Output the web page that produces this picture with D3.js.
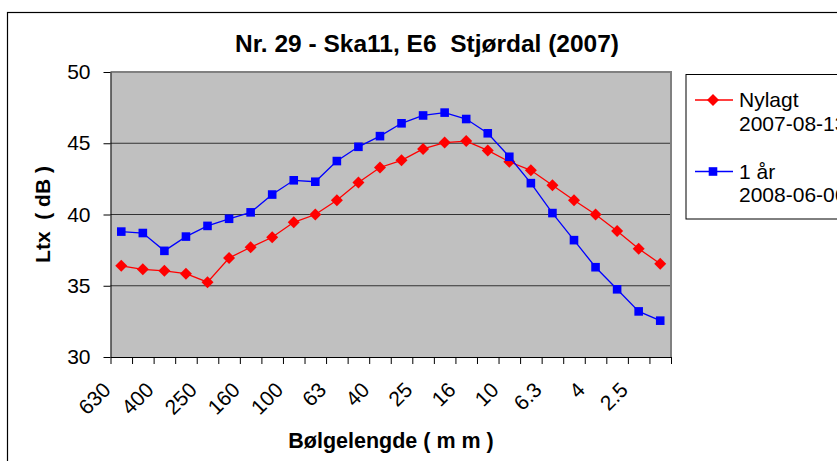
<!DOCTYPE html>
<html lang="no">
<head>
<meta charset="utf-8">
<script src="https://d3js.org/d3.v7.min.js"></script>
<style>
body { margin: 0; background: #fff; }
svg { display: block; font-family: Arial, "Liberation Sans", sans-serif; }
.pre { white-space: pre; }
</style>
</head>
<body>
<svg width="837" height="461"></svg>
<script>
// wavelength bands (mm) and the two measured series
var categories = ["630","500","400","315","250","200","160","125","100","80","63","50","40",
                  "31.5","25","20","16","12.5","10","8","6.3","5","4","3.2","2.5","2"];
var nylagt = [36.4, 36.15, 36.05, 35.85, 35.25, 36.95, 37.7, 38.4, 39.45, 40.0, 41.0, 42.25, 43.3,
              43.8, 44.6, 45.05, 45.15, 44.5, 43.7, 43.1, 42.05, 41.0, 40.0, 38.85, 37.6, 36.55];
var etAar = [38.8, 38.7, 37.45, 38.45, 39.2, 39.7, 40.15, 41.4, 42.4, 42.3, 43.75, 44.75, 45.5,
             46.4, 46.95, 47.15, 46.7, 45.7, 44.05, 42.2, 40.1, 38.2, 36.3, 34.75, 33.2, 32.55];
var yTicks = [30, 35, 40, 45, 50];
var legendLabels = [["Nylagt", "2007-08-13"], ["1 år", "2008-06-06"]];

var svg = d3.select("svg");
var plot = {left: 110.5, right: 671, top: 72, bottom: 357};

var x = d3.scaleBand().domain(d3.range(categories.length)).range([plot.left, plot.right]).padding(0);
var xEdge = d3.scaleLinear().domain([0, categories.length]).range([plot.left, plot.right]);
var y = d3.scaleLinear().domain([30, 50]).range([plot.bottom, plot.top]);
var cx = function(i) { return x(i) + x.bandwidth() / 2; };

// chart frame
svg.append("rect").attr("x", 7.5).attr("y", 12.5).attr("width", 900).attr("height", 500)
    .attr("fill", "#fff").attr("stroke", "#000").attr("stroke-width", 1.2);

// plot area
svg.append("rect").attr("x", plot.left).attr("y", plot.top)
    .attr("width", plot.right - plot.left).attr("height", plot.bottom - plot.top)
    .attr("fill", "#c0c0c0");

svg.selectAll(".grid").data(yTicks.slice(1, 4)).enter().append("line")
    .attr("x1", plot.left).attr("x2", plot.right)
    .attr("y1", function(d) { return y(d); }).attr("y2", function(d) { return y(d); })
    .attr("stroke", "#333").attr("stroke-width", 1);

svg.append("path")
    .attr("d", "M" + plot.left + "," + plot.top + "H" + plot.right + "V" + plot.bottom)
    .attr("fill", "none").attr("stroke", "#808080").attr("stroke-width", 2);

// y axis
var yAxis = svg.append("g").attr("transform", "translate(" + plot.left + ",0)")
    .call(d3.axisLeft(y).tickValues(yTicks).tickSize(7).tickSizeOuter(0).tickPadding(13));
yAxis.selectAll("text").attr("font-size", 21).attr("font-family", "Arial, 'Liberation Sans', sans-serif").attr("fill", "#000");
yAxis.selectAll("line, path").attr("stroke", "#000");

// x axis: ticks at band edges
var xAxis = svg.append("g").attr("transform", "translate(0," + plot.bottom + ")")
    .call(d3.axisBottom(xEdge).tickValues(d3.range(categories.length + 1)).tickFormat("").tickSize(7).tickSizeOuter(0));
xAxis.selectAll("line, path").attr("stroke", "#000");

svg.selectAll(".xlab").data(categories).enter()
    .filter(function(d, i) { return i % 2 === 0; })
    .append("text")
    .attr("transform", function(d) { var i = categories.indexOf(d); return "translate(" + (cx(i) - 14.5) + ",386) rotate(-45)"; })
    .attr("text-anchor", "end").attr("dy", "0.35em")
    .attr("font-size", 21).attr("fill", "#000")
    .text(function(d) { return d; });

// series
function drawSeries(values, color, shape) {
  var line = d3.line().x(function(d, i) { return cx(i); }).y(function(d) { return y(d); });
  svg.append("path").datum(values).attr("d", line)
      .attr("fill", "none").attr("stroke", color).attr("stroke-width", 1.3);
  svg.selectAll(null).data(values).enter().append("path")
      .attr("transform", function(d, i) { return "translate(" + cx(i) + "," + y(d) + ")"; })
      .attr("d", shape).attr("fill", color);
}
var diamond = "M0,-6L6,0L0,6L-6,0Z";
var square = "M-4.3,-4.3H4.3V4.3H-4.3Z";
drawSeries(nylagt, "#ff0000", diamond);
drawSeries(etAar, "#0000ff", square);

// legend
svg.append("rect").attr("x", 686).attr("y", 74.5).attr("width", 200).attr("height", 144.5)
    .attr("fill", "#fff").attr("stroke", "#000").attr("stroke-width", 1);
var legendRows = [{c: "#ff0000", s: diamond, y: 100}, {c: "#0000ff", s: square, y: 171.5}];
legendRows.forEach(function(r, k) {
  svg.append("line").attr("x1", 695).attr("x2", 733).attr("y1", r.y).attr("y2", r.y)
      .attr("stroke", r.c).attr("stroke-width", 1.3);
  svg.append("path").attr("transform", "translate(713," + r.y + ")").attr("d", r.s).attr("fill", r.c);
  var t = svg.append("text").attr("x", 739).attr("y", r.y + 7).attr("font-size", 21).attr("fill", "#000");
  t.append("tspan").attr("x", 739).text(legendLabels[k][0]);
  t.append("tspan").attr("x", 739).attr("dy", 23.5).text(legendLabels[k][1]);
});

// titles
svg.append("text").attr("class", "pre").attr("x", 427).attr("y", 52)
    .attr("text-anchor", "middle").attr("font-size", 24.5).attr("font-weight", "bold")
    .text("Nr. 29 - Ska11, E6  Stjørdal (2007)");
svg.append("text").attr("x", 391).attr("y", 448)
    .attr("text-anchor", "middle").attr("font-size", 21.5).attr("font-weight", "bold")
    .text("Bølgelengde ( m m )");
svg.append("text").attr("class", "pre").attr("transform", "translate(50,214.5) rotate(-90)")
    .attr("text-anchor", "middle").attr("font-size", 21).attr("font-weight", "bold")
    .text("Ltx  ( dB )");
</script>
</body>
</html>
